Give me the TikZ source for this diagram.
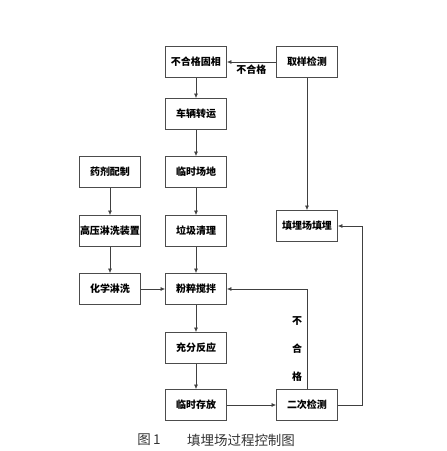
\documentclass[tikz,border=0pt]{standalone}
\usepackage{fontspec}
\newfontfamily\cjk{Noto Sans CJK SC}
\usetikzlibrary{arrows.meta}
\tikzstyle{node_step} = [rectangle, draw=black!70, line width=0.8pt, fill=white, minimum width=61pt, minimum height=31pt, inner sep=0pt, font=\cjk\bfseries\fontsize{10}{12}\selectfont]
\tikzstyle{node_label} = [inner sep=1pt, font=\cjk\bfseries\fontsize{10}{12}\selectfont]
\tikzstyle{edge_flow} = [draw=black!75, line width=0.7pt, -{Latex[length=4.5pt,width=4pt]}]

\begin{document}
\begin{tikzpicture}[x=1pt, y=-1pt]
		\useasboundingbox (0,0) rectangle (447,451);
		\def\mx{196}
		% main column
		\node (G) at (\mx,62) [node_step] {不合格固相};
		\node (V) at (\mx,114) [node_step] {车辆转运};
		\node (L) at (\mx,172) [node_step] {临时场地};
		\node (C) at (\mx,231) [node_step] {垃圾清理};
		\node (M) at (\mx,289) [node_step] {粉粹搅拌};
		\node (F) at (\mx,348) [node_step] {充分反应};
		\node (S) at (\mx,405) [node_step] {临时存放};
		% left column
		\node (K) at (110,172) [node_step] {药剂配制};
		\node (H) at (110,231) [node_step] {高压淋洗装置};
		\node (X) at (110,289) [node_step] {化学淋洗};
		% right column
		\node (Q) at (307,62) [node_step] {取样检测};
		\node (T) at (307,226) [node_step] {填埋场填埋};
		\node (R) at (307,405) [node_step] {二次检测};
		
		\draw[edge_flow] (Q)--(G) node[midway, below=2pt, node_label] {不合格};
		\draw[edge_flow] (Q)--(T);
		\draw[edge_flow] (G)--(V);
		\draw[edge_flow] (V)--(L);
		\draw[edge_flow] (L)--(C);
		\draw[edge_flow] (C)--(M);
		\draw[edge_flow] (M)--(F);
		\draw[edge_flow] (F)--(S);
		\draw[edge_flow] (S)--(R);
		\draw[edge_flow] (K)--(H);
		\draw[edge_flow] (H)--(X);
		\draw[edge_flow] (X)--(M);
		\draw[edge_flow] (R.north) |- (M.east);
		\draw[edge_flow] (R.east) -- ++(24,0) |- (T.east);
		\node (N) at (297,349) [node_label, align=center] {不\\[16pt]合\\[16pt]格};
		
		\node (fig) at (149,440) [font=\cjk\fontsize{13.5}{15}\selectfont, text=black!80] {图\,1};
		\node (title) at (241,440) [font=\cjk\fontsize{13.5}{15}\selectfont, text=black!80] {填埋场过程控制图};
		\end{tikzpicture}
\end{document}
